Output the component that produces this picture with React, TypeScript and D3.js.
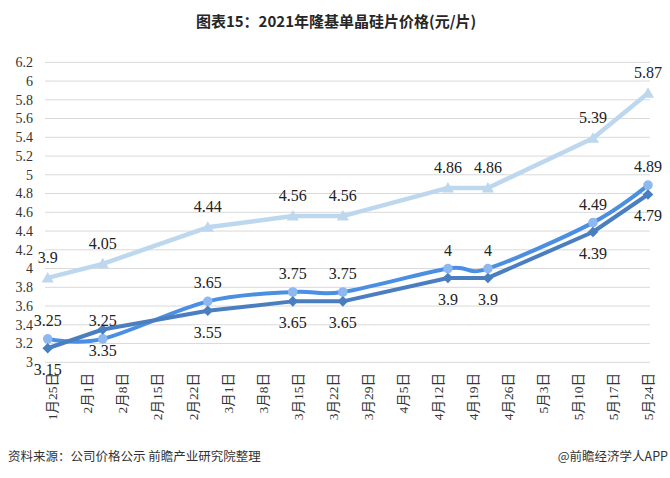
import React from 'react';
import * as d3 from 'd3';

const title = '图表15：2021年隆基单晶硅片价格(元/片)';
const source = '资料来源：公司价格公示 前瞻产业研究院整理';
const credit = '@前瞻经济学人APP';

const tickDates = ['2021-01-25','2021-02-01','2021-02-08','2021-02-15','2021-02-22','2021-03-01','2021-03-08','2021-03-15','2021-03-22','2021-03-29','2021-04-05','2021-04-12','2021-04-19','2021-04-26','2021-05-03','2021-05-10','2021-05-17','2021-05-24'];
const tickLabels = ['1月25日','2月1日','2月8日','2月15日','2月22日','3月1日','3月8日','3月15日','3月22日','3月29日','4月5日','4月12日','4月19日','4月26日','5月3日','5月10日','5月17日','5月24日'];
const yTicks = [3, 3.2, 3.4, 3.6, 3.8, 4, 4.2, 4.4, 4.6, 4.8, 5, 5.2, 5.4, 5.6, 5.8, 6, 6.2];

const pointDates = ['2021-01-24','2021-02-04','2021-02-25','2021-03-14','2021-03-24','2021-04-14','2021-04-22','2021-05-13','2021-05-24'];
const seriesLight = [3.9, 4.05, 4.44, 4.56, 4.56, 4.86, 4.86, 5.39, 5.87];
const seriesMid = [3.25, 3.25, 3.65, 3.75, 3.75, 4, 4, 4.49, 4.89];
const seriesDark = [3.15, 3.35, 3.55, 3.65, 3.65, 3.9, 3.9, 4.39, 4.79];

const parse = d3.utcParse('%Y-%m-%d');
const serif = '"Liberation Serif", "Times New Roman", "Noto Sans CJK SC", serif';
const cjk = '"Noto Sans CJK SC", sans-serif';

export default function App() {
  const W = 670, H = 478;
  const left = 45, right = 650;
  const x = d3.scaleUtc()
    .domain([parse(tickDates[0])!, parse(tickDates[tickDates.length - 1])!])
    .range([52.7, 648]);
  const y = d3.scaleLinear().domain([3, 6.2]).range([362.3, 62.3]);

  const pts = (vals: number[]) => vals.map((v, i) => [x(parse(pointDates[i])!), y(v)] as [number, number]);
  const straight = d3.line<[number, number]>().x(d => d[0]).y(d => d[1]);
  const smooth = d3.line<[number, number]>().x(d => d[0]).y(d => d[1]).curve(d3.curveCardinal.tension(0));

  const light = pts(seriesLight);
  const mid = pts(seriesMid);
  const dark = pts(seriesDark);

  const cLight = '#BDD7EE';
  const cMid = '#4A8FE2';
  const cMidMk = '#8EB9F0';
  const cDark = '#4A7EBF';
  const fmt = (v: number) => String(v);

  const tri = d3.symbol().type(d3.symbolTriangle).size(64)();
  const sq = d3.symbol().type(d3.symbolSquare).size(56)();

  return (
    <svg width={W} height={H} style={{ position: 'absolute', left: 0, top: 0, background: '#fff' }}>
      <rect x={0} y={0} width={W} height={H} fill="#fff" />
      <text x={336} y={27} textAnchor="middle" fontFamily={cjk} fontWeight="bold" fontSize={15} fill="#262626">{title}</text>

      {yTicks.map(t => (
        <g key={t}>
          <line x1={left} x2={right} y1={y(t)} y2={y(t)} stroke="#d9d9d9" strokeWidth={1} />
          <text x={33} y={y(t)} dy="0.35em" textAnchor="end" fontFamily={serif} fontSize={14} fill="#333">{fmt(t)}</text>
        </g>
      ))}

      {tickDates.map((d, i) => {
        const tx = x(parse(d)!);
        return (
          <text key={d} transform={`translate(${tx},373) rotate(-90)`} dy="0.35em" textAnchor="end" fontFamily={serif} fontSize={13.5} fill="#333">{tickLabels[i]}</text>
        );
      })}

      <path d={straight(light)!} fill="none" stroke={cLight} strokeWidth={4.5} strokeLinejoin="round" />
      {light.map((p, i) => (
        <path key={'lt' + i} d={tri!} transform={`translate(${p[0]},${p[1] + 1})`} fill={cLight} />
      ))}

      <path d={smooth(mid)!} fill="none" stroke={cMid} strokeWidth={4} strokeLinejoin="round" />
      {mid.map((p, i) => (
        <circle key={'mc' + i} cx={p[0]} cy={p[1]} r={4.8} fill={cMidMk} />
      ))}

      <path d={straight(dark)!} fill="none" stroke={cDark} strokeWidth={4} strokeLinejoin="round" />
      {dark.map((p, i) => (
        <path key={'dk' + i} d={sq!} transform={`translate(${p[0]},${p[1]}) rotate(45)`} fill={cDark} />
      ))}

      {light.map((p, i) => (
        <text key={'ll' + i} x={p[0]} y={p[1] - 15} textAnchor="middle" fontFamily={serif} fontSize={16} fill="#222">{fmt(seriesLight[i])}</text>
      ))}
      {mid.map((p, i) => (
        <text key={'ml' + i} x={p[0]} y={p[1] - 13} textAnchor="middle" fontFamily={serif} fontSize={16} fill="#222">{fmt(seriesMid[i])}</text>
      ))}
      {dark.map((p, i) => (
        <text key={'dl' + i} x={p[0]} y={p[1] + 27} textAnchor="middle" fontFamily={serif} fontSize={16} fill="#222">{fmt(seriesDark[i])}</text>
      ))}

      <text x={8} y={461} fontFamily={cjk} fontSize={12.5} fill="#333">{source}</text>
      <text x={668} y={461} textAnchor="end" fontFamily={cjk} fontSize={12.5} fill="#333">{credit}</text>
    </svg>
  );
}
